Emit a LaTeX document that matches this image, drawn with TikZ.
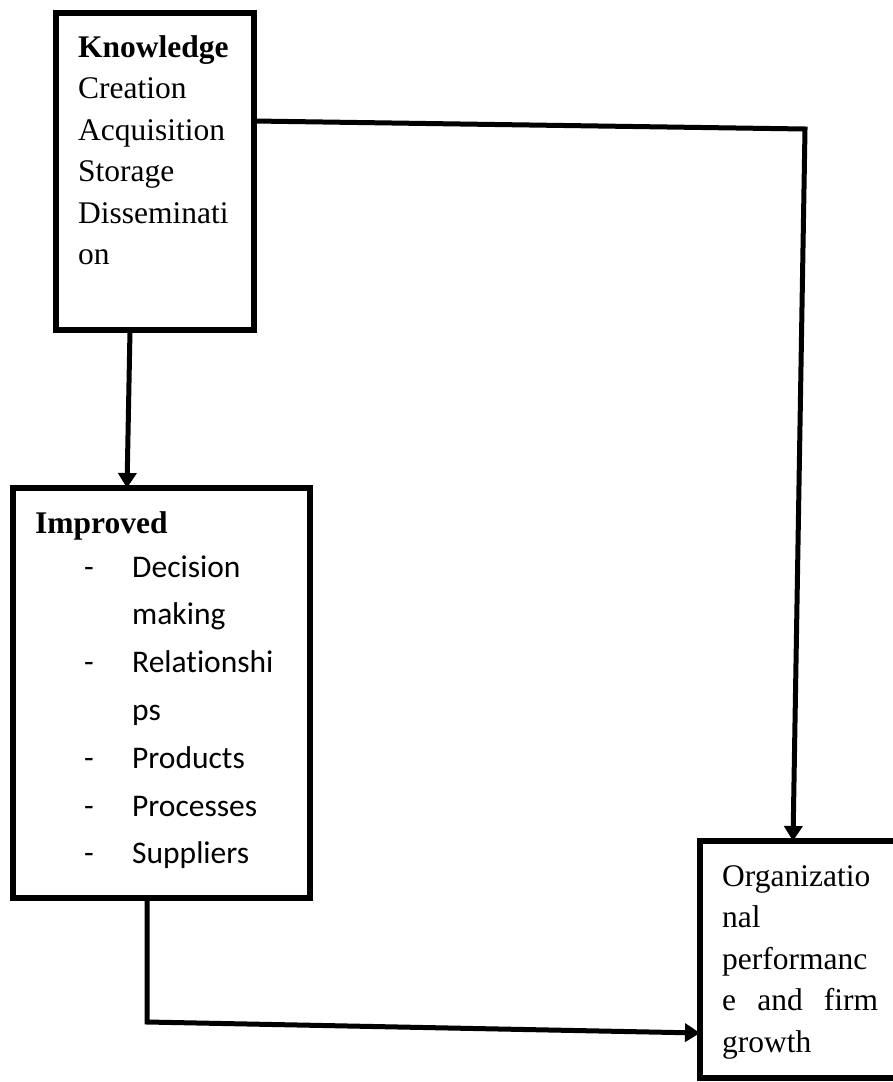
\documentclass[tikz,border=0pt]{standalone}
\usepackage{fontspec}
\setmainfont{Liberation Serif}
\newfontfamily\calfont[Ligatures={NoCommon}]{Carlito}
\usetikzlibrary{arrows.meta,calc}
\begin{document}
\begin{tikzpicture}[x=1pt,y=-1pt,
  box/.style={draw, line width=5.5pt, anchor=north west, inner sep=0pt, outer sep=0pt, fill=white},
  openbox/.style={anchor=north west, inner sep=0pt, outer sep=0pt},
  edge/.style={line width=5.5pt, line join=miter},
  conn/.style={line width=5pt, line join=miter, -{Triangle[length=15pt,width=18pt]}},
  txt/.style={anchor=base west, inner sep=0pt, font=\fontsize{31.5}{38}\selectfont},
  ctxt/.style={anchor=base west, inner sep=0pt, font=\calfont\fontsize{31.5}{38}\selectfont}]
\useasboundingbox (0,0) rectangle (893,1082);
\clip (0,0) rectangle (893,1082);
\fill[white] (0,0) rectangle (893,1082);

% boxes
\node[box, minimum width=198pt, minimum height=317pt] (K) at (56,13) {};
\node[box, minimum width=297pt, minimum height=410pt] (I) at (13,488) {};
\node[openbox, minimum width=260pt, minimum height=237pt] (O) at (700,841) {};
\draw[edge] (O.north east) -- (O.north west) -- (O.south west) -- (O.south east);

% knowledge text
\node[txt] (k1) at (78,57) {\textbf{Knowledge}};
\node[txt] (k2) at (78,98.5) {Creation};
\node[txt] (k3) at (78,140) {Acquisition};
\node[txt] (k4) at (78,181.5) {Storage};
\node[txt] (k5) at (78,223) {Disseminati};
\node[txt] (k6) at (78,264.5) {on};

% improved text
\node[txt] (i0) at (35,533) {\textbf{Improved}};
\node[ctxt] (d1) at (84,577) {-};
\node[ctxt] (i1) at (132,577) {Decision};
\node[ctxt] (i2) at (132,624.8) {making};
\node[ctxt] (d2) at (84,672.6) {-};
\node[ctxt] (i3) at (132,672.6) {Relationshi};
\node[ctxt] (i4) at (132,720.4) {ps};
\node[ctxt] (d3) at (84,768.2) {-};
\node[ctxt] (i5) at (132,768.2) {Products};
\node[ctxt] (d4) at (84,816) {-};
\node[ctxt] (i6) at (132,816) {Processes};
\node[ctxt] (d5) at (84,863.8) {-};
\node[ctxt] (i7) at (132,863.8) {Suppliers};

% organizational text
\node[txt] (o1) at (722,886) {Organizatio};
\node[txt] (o2) at (722,927.5) {nal};
\node[txt] (o3) at (722,969) {performanc};
\node[txt] (o4) at (722,1010.5) {\hbox to 156pt{e\hfill and\hfill firm}};
\node[txt] (o5) at (722,1052) {growth};

% connectors
\coordinate (c1) at (805,129);
\coordinate (c2) at (147,1022);
\draw[conn] ($(K.south west)+(74,0)$) -- ($(I.north west)+(114,0)$);
\draw[conn] ($(K.north east)+(0,108)$) -- (c1) -- ($(O.north west)+(93,0)$);
\draw[conn] ($(I.south west)+(134,0)$) -- (c2) -- ($(O.north west)+(0,192)$);
\end{tikzpicture}
\end{document}
